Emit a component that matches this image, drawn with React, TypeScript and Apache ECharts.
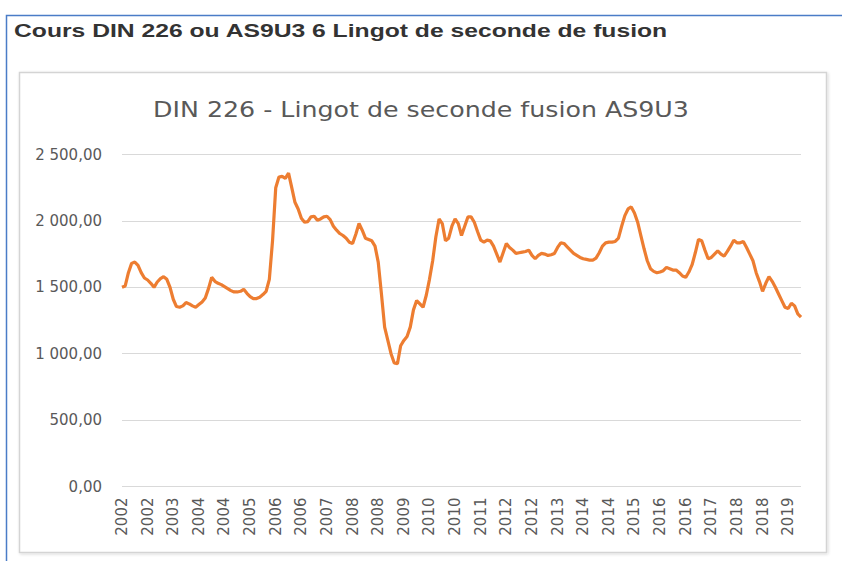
import React, { useEffect, useRef } from "react";
import * as echarts from "echarts";

const startYear = 2002;
const monthCount = 213; // Jan 2002 – Sep 2019

const prices = [
  1500, 1510, 1610, 1680, 1690, 1665, 1610, 1570, 1555, 1530, 1500, 1540,
  1565, 1580, 1560, 1500, 1410, 1355, 1350, 1360, 1385, 1375, 1360, 1350,
  1370, 1390, 1420, 1490, 1575, 1545, 1530, 1520, 1505, 1490, 1475, 1465,
  1465, 1470, 1485, 1455, 1430, 1415, 1415, 1425, 1445, 1470, 1560, 1850,
  2250, 2330, 2335, 2320, 2360, 2250, 2140, 2090, 2020, 1990, 1995, 2030,
  2035, 2005, 2015, 2030, 2035, 2010, 1960, 1930, 1905, 1890, 1870, 1840,
  1830, 1900, 1980, 1930, 1870, 1860, 1850, 1810, 1690, 1450, 1200, 1100,
  1000, 930, 925, 1060, 1100, 1130, 1200, 1330, 1400, 1375, 1350, 1440,
  1560, 1700, 1880, 2015, 1980, 1850, 1870, 1960, 2015, 1980, 1890, 1960,
  2030, 2030, 1990, 1920, 1855, 1840, 1855, 1850, 1810, 1750, 1690, 1760,
  1830, 1800, 1780, 1755, 1760, 1765, 1770, 1780, 1740, 1715, 1740, 1755,
  1750, 1740, 1745, 1755, 1800, 1835, 1830, 1805, 1780, 1755, 1740, 1725,
  1715, 1710, 1705, 1705, 1720, 1760, 1810, 1835, 1840, 1840, 1845, 1870,
  1960, 2040, 2090, 2105, 2060, 1990, 1890, 1790, 1700, 1640, 1620, 1610,
  1615, 1625, 1650, 1640, 1630, 1630, 1610, 1585, 1575, 1615, 1670, 1760,
  1860, 1850, 1780, 1715, 1725, 1750, 1775, 1750, 1735, 1770, 1810, 1855,
  1835, 1835, 1845, 1800, 1750, 1700, 1610, 1545, 1470, 1530, 1580, 1545,
  1500, 1450, 1400, 1350, 1340, 1380, 1360, 1300, 1275,
];

const categories: string[] = [];
for (let i = 0; i < monthCount; i++) {
  const y = startYear + Math.floor(i / 12);
  const m = (i % 12) + 1;
  categories.push(`${y}-${m < 10 ? "0" + m : m}`);
}

const yTicks = [0, 500, 1000, 1500, 2000, 2500];

const pageTitle = "Cours DIN 226 ou AS9U3 6 Lingot de seconde de fusion";
const chartTitle = "DIN 226 - Lingot de seconde fusion AS9U3";

function frNumber(v: number): string {
  const fixed = v.toFixed(2);
  const [intPart, dec] = fixed.split(".");
  const withSep = intPart.replace(/\B(?=(\d{3})+(?!\d))/g, " ");
  return `${withSep},${dec}`;
}

export default function App() {
  const ref = useRef<HTMLDivElement>(null);
  useEffect(() => {
    if (!ref.current) return;
    const chart = echarts.init(ref.current, null, { renderer: "svg" });
    chart.setOption({
      animation: false,
      backgroundColor: "#ffffff",
      graphic: [
        {
          type: "rect",
          z: -10,
          silent: true,
          shape: { x: 6.5, y: 15.5, width: 900, height: 600 },
          style: { fill: "#ffffff", stroke: "#4a7cc7", lineWidth: 1.5 },
        },
        {
          type: "text",
          z: 10,
          x: 14,
          y: 31,
          scaleX: 1.3,
          style: {
            text: pageTitle,
            font: "bold 19px 'Liberation Sans'",
            fill: "#333333",
            verticalAlign: "middle",
          },
        },
        {
          type: "rect",
          z: -5,
          silent: true,
          shape: { x: 19.5, y: 72.5, width: 807, height: 480 },
          style: {
            fill: "#ffffff",
            stroke: "#d4d4d4",
            lineWidth: 1.5,
            shadowBlur: 3,
            shadowColor: "rgba(0,0,0,0.15)",
            shadowOffsetX: 1,
            shadowOffsetY: 1,
          },
        },
        {
          type: "text",
          z: 10,
          x: 421,
          y: 110,
          scaleX: 1.15,
          style: {
            text: chartTitle,
            font: "22px 'DejaVu Sans'",
            fill: "#595959",
            align: "center",
            verticalAlign: "middle",
          },
        },
      ],
      grid: { left: 122, right: 41, top: 154.5, bottom: 74.5, containLabel: false },
      xAxis: {
        type: "category",
        data: categories,
        boundaryGap: false,
        axisLine: { show: false },
        axisTick: { show: false },
        splitLine: { show: false },
        axisLabel: {
          interval: 7,
          rotate: 90,
          margin: 11,
          color: "#595959",
          fontFamily: "DejaVu Sans",
          fontSize: 15,
          formatter: (v: string) => v.slice(0, 4),
        },
      },
      yAxis: {
        type: "value",
        min: yTicks[0],
        max: yTicks[yTicks.length - 1],
        interval: 500,
        axisLine: { show: false },
        axisTick: { show: false },
        splitLine: { lineStyle: { color: "#d9d9d9", width: 1.2 } },
        axisLabel: {
          margin: 20,
          color: "#595959",
          fontFamily: "DejaVu Sans",
          fontSize: 15,
          formatter: (v: number) => frNumber(v),
        },
      },
      series: [
        {
          type: "line",
          data: prices,
          showSymbol: false,
          smooth: false,
          lineStyle: { color: "#ED7D31", width: 3.2 },
          itemStyle: { color: "#ED7D31" },
        },
      ],
    });
    return () => chart.dispose();
  }, []);
  return (
    <div
      ref={ref}
      style={{ position: "fixed", left: 0, top: 0, width: 842, height: 561 }}
    />
  );
}
